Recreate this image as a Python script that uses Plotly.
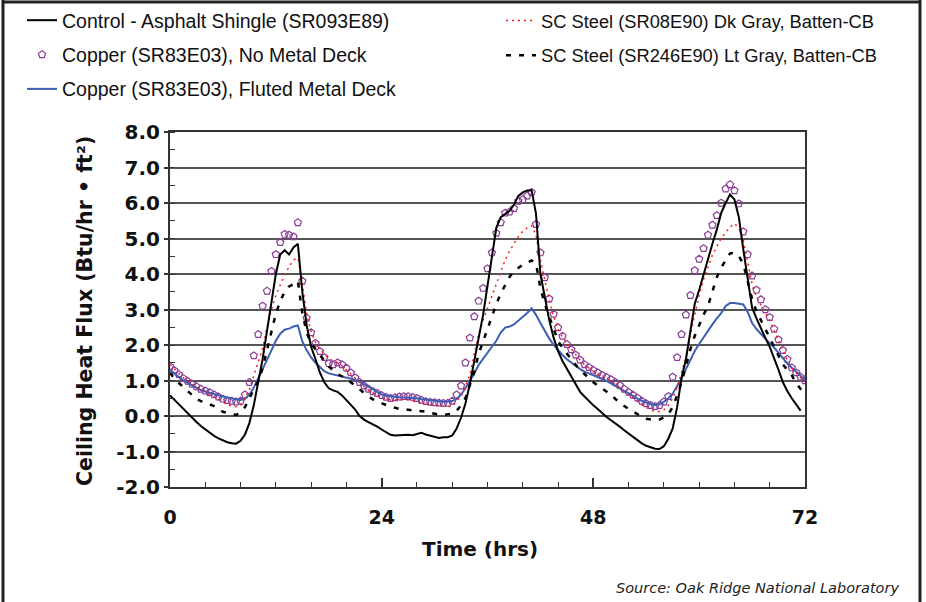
import plotly.graph_objects as go

hours = [i * 0.5 for i in range(145)]

control_asphalt = [
    0.58, 0.45, 0.33, 0.2, 0.07, -0.05, -0.17, -0.28, -0.38, -0.48,
    -0.56, -0.63, -0.69, -0.74, -0.77, -0.78, -0.7, -0.52, -0.2, 0.3,
    0.95, 1.6, 2.4, 3.2, 4.0, 4.55, 4.67, 4.55, 4.75, 4.85,
    3.5, 2.55, 1.95, 1.6, 1.22, 0.95, 0.78, 0.72, 0.68, 0.58,
    0.45, 0.32, 0.18, 0.0, -0.1, -0.17, -0.23, -0.3, -0.38, -0.46,
    -0.53, -0.55, -0.54, -0.55, -0.53, -0.54, -0.5, -0.47, -0.52, -0.55,
    -0.6, -0.62, -0.6, -0.6, -0.55, -0.35, -0.05, 0.35, 0.9, 1.5,
    2.2, 2.85, 3.7, 4.5, 5.3, 5.6, 5.7, 5.78, 5.95, 6.2,
    6.3, 6.35, 6.36, 5.7, 4.0, 3.35, 2.7, 2.2, 1.83, 1.55,
    1.33, 1.1, 0.9, 0.68, 0.55, 0.42, 0.3, 0.2, 0.08, -0.03,
    -0.12, -0.2, -0.3, -0.4, -0.5, -0.6, -0.68, -0.77, -0.84, -0.88,
    -0.92, -0.93, -0.85, -0.64, -0.35, 0.25, 1.07, 1.6, 2.4, 3.16,
    3.55, 4.0, 4.39, 4.85, 5.25, 5.72, 6.0, 6.24, 6.1, 5.6,
    4.7, 3.8, 3.05, 2.75, 2.45, 2.2, 1.95, 1.65, 1.3, 0.95,
    0.7, 0.5, 0.33, 0.15, None,
]

copper_no_deck = [
    1.4, 1.28, 1.17, 1.06, 0.98, 0.9, 0.83, 0.76, 0.71, 0.66,
    0.6, 0.54, 0.48, 0.44, 0.42, 0.4, 0.42, 0.6, 0.95, 1.7,
    2.3, 3.1, 3.52, 4.08, 4.55, 4.89, 5.12, 5.1, 5.05, 5.45,
    3.8, 2.76, 2.35, 2.05, 1.82, 1.65, 1.48, 1.45, 1.5, 1.45,
    1.35, 1.22, 1.08, 0.95, 0.85, 0.76, 0.69, 0.64, 0.58, 0.53,
    0.5, 0.52, 0.54, 0.55, 0.55, 0.53, 0.5, 0.45, 0.41, 0.39,
    0.38, 0.37, 0.36, 0.36, 0.42, 0.6, 0.85, 1.5, 2.2, 2.8,
    3.24, 3.6, 4.15, 4.6, 5.15, 5.45, 5.72, 5.75, 5.85, 6.05,
    6.1, 6.2, 6.3, 5.4, 4.6, 3.9, 3.3, 2.87, 2.49, 2.25,
    2.02, 1.87, 1.72, 1.58, 1.45, 1.37, 1.29, 1.22, 1.15, 1.09,
    1.03, 0.95, 0.86, 0.76, 0.67, 0.59, 0.51, 0.42, 0.35, 0.3,
    0.27, 0.3, 0.4, 0.55, 1.1, 1.65, 2.3, 2.85, 3.4, 4.1,
    4.42, 4.72, 5.1, 5.38, 5.65, 6.0, 6.4, 6.52, 6.35, 5.98,
    5.19, 4.55, 3.95, 3.55, 3.28, 3.0, 2.78, 2.45, 2.15, 1.85,
    1.6, 1.36, 1.22, 1.1, 1.0,
]

copper_fluted = [
    1.3, 1.2, 1.1, 1.0, 0.93, 0.86, 0.79, 0.73, 0.69, 0.65,
    0.61, 0.58, 0.55, 0.52, 0.49, 0.46, 0.45, 0.48, 0.6, 0.8,
    1.05, 1.3, 1.58, 1.85, 2.12, 2.32, 2.43, 2.46, 2.52, 2.55,
    2.1, 1.85, 1.65, 1.5, 1.38, 1.26, 1.2, 1.17, 1.15, 1.12,
    1.1, 1.06, 1.02, 0.96, 0.9, 0.83, 0.76, 0.68, 0.61, 0.57,
    0.55, 0.54, 0.53, 0.52, 0.52, 0.51, 0.5, 0.48, 0.46, 0.44,
    0.42, 0.41, 0.4, 0.41, 0.42, 0.48, 0.6, 0.78, 0.98, 1.2,
    1.44, 1.62, 1.8, 1.95, 2.12, 2.35, 2.49, 2.52, 2.58, 2.68,
    2.78, 2.9, 3.03, 2.85, 2.62, 2.38, 2.18, 2.0, 1.85, 1.72,
    1.6, 1.5, 1.4, 1.32, 1.25, 1.2, 1.14, 1.08, 1.04, 0.99,
    0.92, 0.84, 0.76, 0.7, 0.64, 0.56, 0.49, 0.43, 0.38, 0.34,
    0.31, 0.34, 0.4, 0.5, 0.63, 0.84, 1.06, 1.32, 1.58, 1.83,
    2.03, 2.22, 2.42, 2.58, 2.75, 2.9, 3.1, 3.18, 3.18, 3.17,
    3.14, 2.93, 2.62, 2.45, 2.3, 2.18, 2.05, 1.93, 1.78, 1.62,
    1.48, 1.36, 1.25, 1.13, 1.02,
]

steel_dk_gray = [
    1.45, 1.32, 1.2, 1.08, 0.98, 0.9, 0.82, 0.74, 0.68, 0.6,
    0.53, 0.46, 0.4, 0.33, 0.28, 0.26, 0.3, 0.5, 0.75, 1.15,
    1.5, 1.9, 2.5, 3.0, 3.4, 3.71, 3.97, 4.2, 4.4, 4.45,
    3.75, 2.86, 2.38, 2.08, 1.88, 1.75, 1.62, 1.55, 1.5, 1.42,
    1.3, 1.18, 1.06, 0.94, 0.83, 0.73, 0.64, 0.57, 0.51, 0.47,
    0.45, 0.45, 0.46, 0.46, 0.45, 0.43, 0.4, 0.37, 0.34, 0.32,
    0.3, 0.28, 0.27, 0.26, 0.3, 0.42, 0.55, 0.85, 1.15, 1.75,
    2.3, 2.7, 3.05, 3.35, 3.75, 4.1, 4.39, 4.65, 4.85, 5.05,
    5.2, 5.3, 5.36, 5.1, 4.4, 3.8, 3.25, 2.8, 2.45, 2.22,
    2.05, 1.88, 1.72, 1.57, 1.45, 1.35, 1.26, 1.18, 1.1, 1.04,
    0.98, 0.9, 0.8, 0.7, 0.6, 0.5, 0.42, 0.32, 0.24, 0.17,
    0.12, 0.13, 0.17, 0.3, 0.5, 0.8, 1.2, 1.65, 2.3, 2.9,
    3.4, 3.85, 4.2, 4.53, 4.78, 5.0, 5.17, 5.32, 5.42, 5.3,
    4.95, 4.38, 3.73, 3.35, 3.12, 2.9, 2.7, 2.4, 2.12, 1.82,
    1.57, 1.35, 1.2, 1.08, 0.98,
]

steel_lt_gray = [
    1.22, 1.05, 0.93, 0.82, 0.7, 0.58, 0.48, 0.42, 0.38, 0.34,
    0.28, 0.2, 0.12, 0.08, 0.05, 0.03, 0.1, 0.25, 0.5, 0.72,
    0.98, 1.35, 1.85, 2.4, 2.88, 3.24, 3.5, 3.65, 3.71, 3.8,
    2.9, 2.35, 2.05, 1.88, 1.72, 1.55, 1.4, 1.28, 1.18, 1.12,
    1.05, 0.95, 0.85, 0.74, 0.63, 0.55, 0.47, 0.41, 0.36, 0.31,
    0.27, 0.23, 0.2, 0.19, 0.18, 0.17, 0.15, 0.13, 0.12, 0.09,
    0.06, 0.04, 0.03, 0.04, 0.07, 0.15, 0.3, 0.5, 0.85, 1.25,
    1.75, 2.1, 2.45, 2.85, 3.15, 3.45, 3.7, 3.92, 4.08, 4.18,
    4.26, 4.32, 4.38, 4.3, 3.6, 3.15, 2.8, 2.45, 2.11, 1.92,
    1.75, 1.58, 1.44, 1.3, 1.18, 1.07, 0.95, 0.86, 0.78, 0.7,
    0.6, 0.48, 0.37, 0.28, 0.2, 0.12, 0.05, -0.02, -0.08, -0.1,
    -0.11, -0.1, -0.04, 0.05, 0.25, 0.58, 0.95, 1.4, 1.88, 2.26,
    2.58, 2.85, 3.1, 3.5, 3.91, 4.18, 4.38, 4.58, 4.6, 4.5,
    4.29, 3.75, 3.3, 2.95, 2.72, 2.45, 2.2, 1.95, 1.68, 1.45,
    1.3, 1.15, 0.92, 0.76, 0.64,
]

x_ticks = [0, 24, 48, 72]
y_ticks = [-2, -1, 0, 1, 2, 3, 4, 5, 6, 7, 8]
y_tick_text = ["-2.0", "-1.0", "0.0", "1.0", "2.0", "3.0", "4.0", "5.0", "6.0", "7.0", "8.0"]

LEG_FONT = dict(family="Liberation Sans", size=19.5, color="#111")
LEG_FONT2 = dict(family="Liberation Sans", size=18.3, color="#111")
BOLD = dict(family="DejaVu Sans", size=20, color="#111", weight="bold")
BOLD_Y = dict(family="DejaVu Sans", size=20.5, color="#111", weight="bold")
BOLD_XT = dict(family="DejaVu Sans", size=19, color="#111", weight="bold")

fig = go.Figure()
fig.add_trace(go.Scatter(
    x=hours, y=copper_no_deck, mode="markers", name="Copper (SR83E03), No Metal Deck",
    marker=dict(symbol="pentagon-open", size=7.5, color="#8a3d96", line=dict(width=1.2)),
    legend="legend", legendrank=2, legendgroup="b"))
fig.add_trace(go.Scatter(
    x=hours, y=copper_fluted, mode="lines", name="Copper (SR83E03), Fluted Metal Deck",
    line=dict(color="#3d5fb3", width=2), legend="legend", legendrank=3, legendgroup="c"))
fig.add_trace(go.Scatter(
    x=hours, y=steel_dk_gray, mode="lines", name="SC Steel (SR08E90) Dk Gray, Batten-CB",
    line=dict(color="#ff1a1a", width=1.5, dash="2px,4px"), legend="legend2", legendrank=1,
    legendgroup="d"))
fig.add_trace(go.Scatter(
    x=hours, y=steel_lt_gray, mode="lines", name="SC Steel (SR246E90) Lt Gray, Batten-CB",
    line=dict(color="#000000", width=2.5, dash="5px,8px"), legend="legend2", legendrank=2,
    legendgroup="e"))
fig.add_trace(go.Scatter(
    x=hours, y=control_asphalt, mode="lines", name="Control - Asphalt Shingle (SR093E89)",
    line=dict(color="#000000", width=2), legend="legend", legendrank=1, legendgroup="a"))

ml, mr, mt, mb = 170, 121, 132, 115
W, H = 926, 602
pw, ph = W - ml - mr, H - mt - mb


def px(xp):
    return (xp - ml) / pw


def py(yp):
    return (H - mb - yp) / ph


fig.update_layout(
    width=W, height=H,
    margin=dict(l=ml, r=mr, t=mt, b=mb, autoexpand=False),
    paper_bgcolor="white", plot_bgcolor="white",
    showlegend=True,
    legend=dict(x=px(22), y=py(1), xanchor="left", yanchor="top", font=LEG_FONT,
                bgcolor="rgba(0,0,0,0)", tracegroupgap=6, itemwidth=30),
    legend2=dict(x=px(501), y=py(2), xanchor="left", yanchor="top", font=LEG_FONT2,
                 bgcolor="rgba(0,0,0,0)", tracegroupgap=8, itemwidth=30),
    xaxis=dict(range=[0, 72], tickvals=x_ticks, ticktext=[str(v) for v in x_ticks],
               showgrid=False, zeroline=False, showline=True, linecolor="#333", linewidth=2,
               mirror=True, ticks="inside", ticklen=9, tickwidth=1.5, tickcolor="#333",
               minor=dict(dtick=4, ticks="inside", ticklen=5, tickwidth=1, tickcolor="#333"),
               tickfont=BOLD_XT, ticklabelstandoff=12),
    yaxis=dict(range=[-2, 8], tickvals=y_ticks, ticktext=y_tick_text,
               showgrid=True, gridcolor="#555", gridwidth=2, zeroline=False,
               showline=True, linecolor="#333", linewidth=2, mirror=True,
               ticks="outside", ticklen=4, tickwidth=1.5, tickcolor="#333",
               minor=dict(dtick=0.5, ticks="inside", ticklen=5, tickwidth=1, tickcolor="#333",
                          showgrid=False),
               tickfont=BOLD, ticklabelstandoff=0),
    annotations=[
        dict(text="Ceiling Heat Flux (Btu/hr • ft²)", xref="paper", yref="paper",
             x=px(85), y=py(311), textangle=-90, showarrow=False, font=BOLD_Y,
             xanchor="center", yanchor="middle"),
        dict(text="Time (hrs)", xref="paper", yref="paper", x=px(480), y=py(549),
             showarrow=False, font=BOLD, xanchor="center", yanchor="middle"),
        dict(text="<i>Source: Oak Ridge National Laboratory</i>", xref="paper", yref="paper",
             x=px(901), y=py(588), showarrow=False, xanchor="right", yanchor="middle",
             font=dict(family="DejaVu Sans", size=14.5, color="#222")),
    ],
    shapes=[
        dict(type="line", xref="paper", yref="paper", x0=px(3), x1=px(3), y0=py(0), y1=py(602),
             line=dict(color="#222", width=3)),
        dict(type="line", xref="paper", yref="paper", x0=px(2), x1=px(921), y0=py(2), y1=py(2),
             line=dict(color="#222", width=3)),
        dict(type="line", xref="paper", yref="paper", x0=px(920), x1=px(920), y0=py(0), y1=py(602),
             line=dict(color="#222", width=3)),
    ],
)

fig.write_html(
    "out.html",
    config={"displayModeBar": False},
    post_script="document.body.style.margin='0';document.body.style.overflow='hidden';",
)
